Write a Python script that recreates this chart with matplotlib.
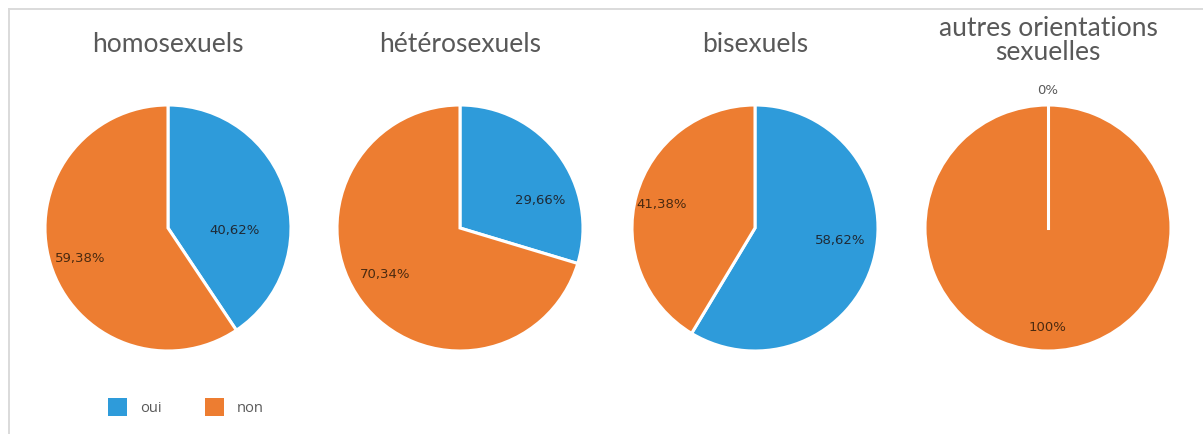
import matplotlib
matplotlib.use("Agg")
import numpy as np
import matplotlib.pyplot as plt
from matplotlib.patches import Rectangle
from matplotlib.lines import Line2D

# Data
groups = ["homosexuels", "hétérosexuels", "bisexuels", "autres orientations\nsexuelles"]
answers = ["oui", "non"]
oui_pct = [40.62, 29.66, 58.62, 0.0]
non_pct = [59.38, 70.34, 41.38, 100.0]
value_labels = [["40,62%", "59,38%"], ["29,66%", "70,34%"],
                ["58,62%", "41,38%"], ["0%", "100%"]]

# Styling
colors = ["#2E9BDA", "#ED7D31"]
W, H = 1203, 434
centers_x = [168, 460, 755, 1048]
center_y = H - 228
radius = 123
# label offsets in units of radius (x right, y up), per pie: (oui, non)
label_offsets = [[(0.545, -0.02), (-0.715, -0.245)],
                 [(0.65, 0.22), (-0.61, -0.38)],
                 [(0.69, -0.10), (-0.76, 0.19)],
                 [(0.0, 1.12), (0.0, -0.81)]]
label_colors = [["#1f2a36", "#4a2a10"], ["#1f2a36", "#4a2a10"],
                ["#1f2a36", "#4a2a10"], ["#595959", "#4a2a10"]]
title_font = "Lato"

fig = plt.figure(figsize=(W / 100, H / 100), dpi=100)
ax = fig.add_axes([0, 0, 1, 1])
ax.set_xlim(0, W)
ax.set_ylim(0, H)
ax.set_aspect("equal")
ax.axis("off")

# frame lines (top and left)
ax.add_line(Line2D([9, W], [H - 9, H - 9], color="#dadada", lw=1.4))
ax.add_line(Line2D([9, 9], [0, H - 9], color="#dadada", lw=1.4))

for i, name in enumerate(groups):
    vals = [oui_pct[i], non_pct[i]]
    cx = centers_x[i]
    ax.pie(vals, colors=colors, startangle=90, counterclock=False,
           center=(cx, center_y), radius=radius, frame=True,
           wedgeprops=dict(edgecolor="white", linewidth=2.2))
    # separators for empty slices (not drawn by the wedges themselves)
    if min(vals) == 0:
        ang = np.deg2rad(90 - 360 * oui_pct[i] / 100)
        ax.add_line(Line2D([cx, cx + radius * np.cos(ang)],
                           [center_y, center_y + radius * np.sin(ang)],
                           color="white", lw=2.2))
    for j in range(2):
        dx, dy = label_offsets[i][j]
        ax.text(cx + dx * radius, center_y + dy * radius, value_labels[i][j],
                ha="center", va="center", fontsize=9.5, family="DejaVu Sans",
                color=label_colors[i][j])
    if "\n" in name:
        ax.text(cx, H - 41, name, ha="center", va="center", fontsize=19,
                family=title_font, color="#595959", linespacing=0.95)
    else:
        ax.text(cx, H - 45, name, ha="center", va="center", fontsize=19,
                family=title_font, color="#595959")

# restore limits after pie calls
ax.set_xlim(0, W)
ax.set_ylim(0, H)
ax.axis("off")

# legend
legend_x = [108, 205]
for j, lab in enumerate(answers):
    ax.add_patch(Rectangle((legend_x[j], H - 416), 19, 18, facecolor=colors[j],
                           edgecolor="none"))
    ax.text(legend_x[j] + 32, H - 408, lab, ha="left", va="center",
            fontsize=10.5, family="Open Sans", color="#595959")

fig.savefig("out.png", dpi=100)
